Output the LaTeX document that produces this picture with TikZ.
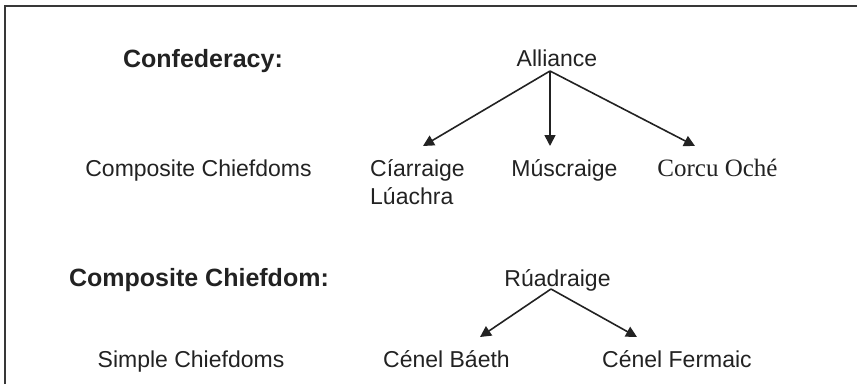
\documentclass[tikz,border=0pt]{standalone}
\usepackage{fontspec}
\setmainfont{Liberation Sans}
\newfontfamily\timesf{Liberation Serif}
\usetikzlibrary{arrows.meta}
\definecolor{ink}{HTML}{222222}
\begin{document}
\begin{tikzpicture}[x=1pt,y=-1pt,
  lbl/.style={inner sep=0pt,anchor=base,text=ink,font=\fontsize{23}{28}\selectfont},
  head/.style={inner sep=0pt,anchor=base,text=ink,font=\fontsize{25}{28}\selectfont\bfseries},
  arr/.style={draw=ink,line width=1.6pt,-{Triangle[length=11pt,width=11pt]}},
  frame/.style={draw=ink!90,line width=2pt}]
\useasboundingbox (0,0) rectangle (857,384);
\draw[frame] (4.5,384) -- (4.5,5.5) -- (857,5.5);
% headings
\node[head] (conf) at (203,67) {Confederacy:};
\node[head] (compc) at (199,286) {Composite Chiefdom:};
\node[lbl] (compcs) at (198.5,176) {Composite Chiefdoms};
\node[lbl] (simple) at (191,367) {Simple Chiefdoms};
% tree 1
\node[lbl] (alliance) at (557,66) {Alliance};
\node[lbl,anchor=base west,align=left] (ciar) at (370,204) {Cíarraige\\Lúachra};
\node[lbl] (musc) at (564.5,176) {Múscraige};
\node[lbl,font=\fontsize{25}{28}\timesf] (corcu) at (717.5,176) {Corcu Oché};
\coordinate (a0) at (550,71);
\coordinate (a1) at (423,146);
\coordinate (a2) at (550,146);
\coordinate (a3) at (695,146);
\draw[arr] (a0) -- (a1);
\draw[arr] (a0) -- (a2);
\draw[arr] (a0) -- (a3);
% tree 2
\node[lbl] (ruad) at (557.5,286) {Rúadraige};
\node[lbl] (baeth) at (446.5,367) {Cénel Báeth};
\node[lbl] (ferm) at (677,367) {Cénel Fermaic};
\coordinate (r0) at (551,289);
\coordinate (r1) at (480,337);
\coordinate (r2) at (637,337);
\draw[arr] (r0) -- (r1);
\draw[arr] (r0) -- (r2);
\end{tikzpicture}
\end{document}
